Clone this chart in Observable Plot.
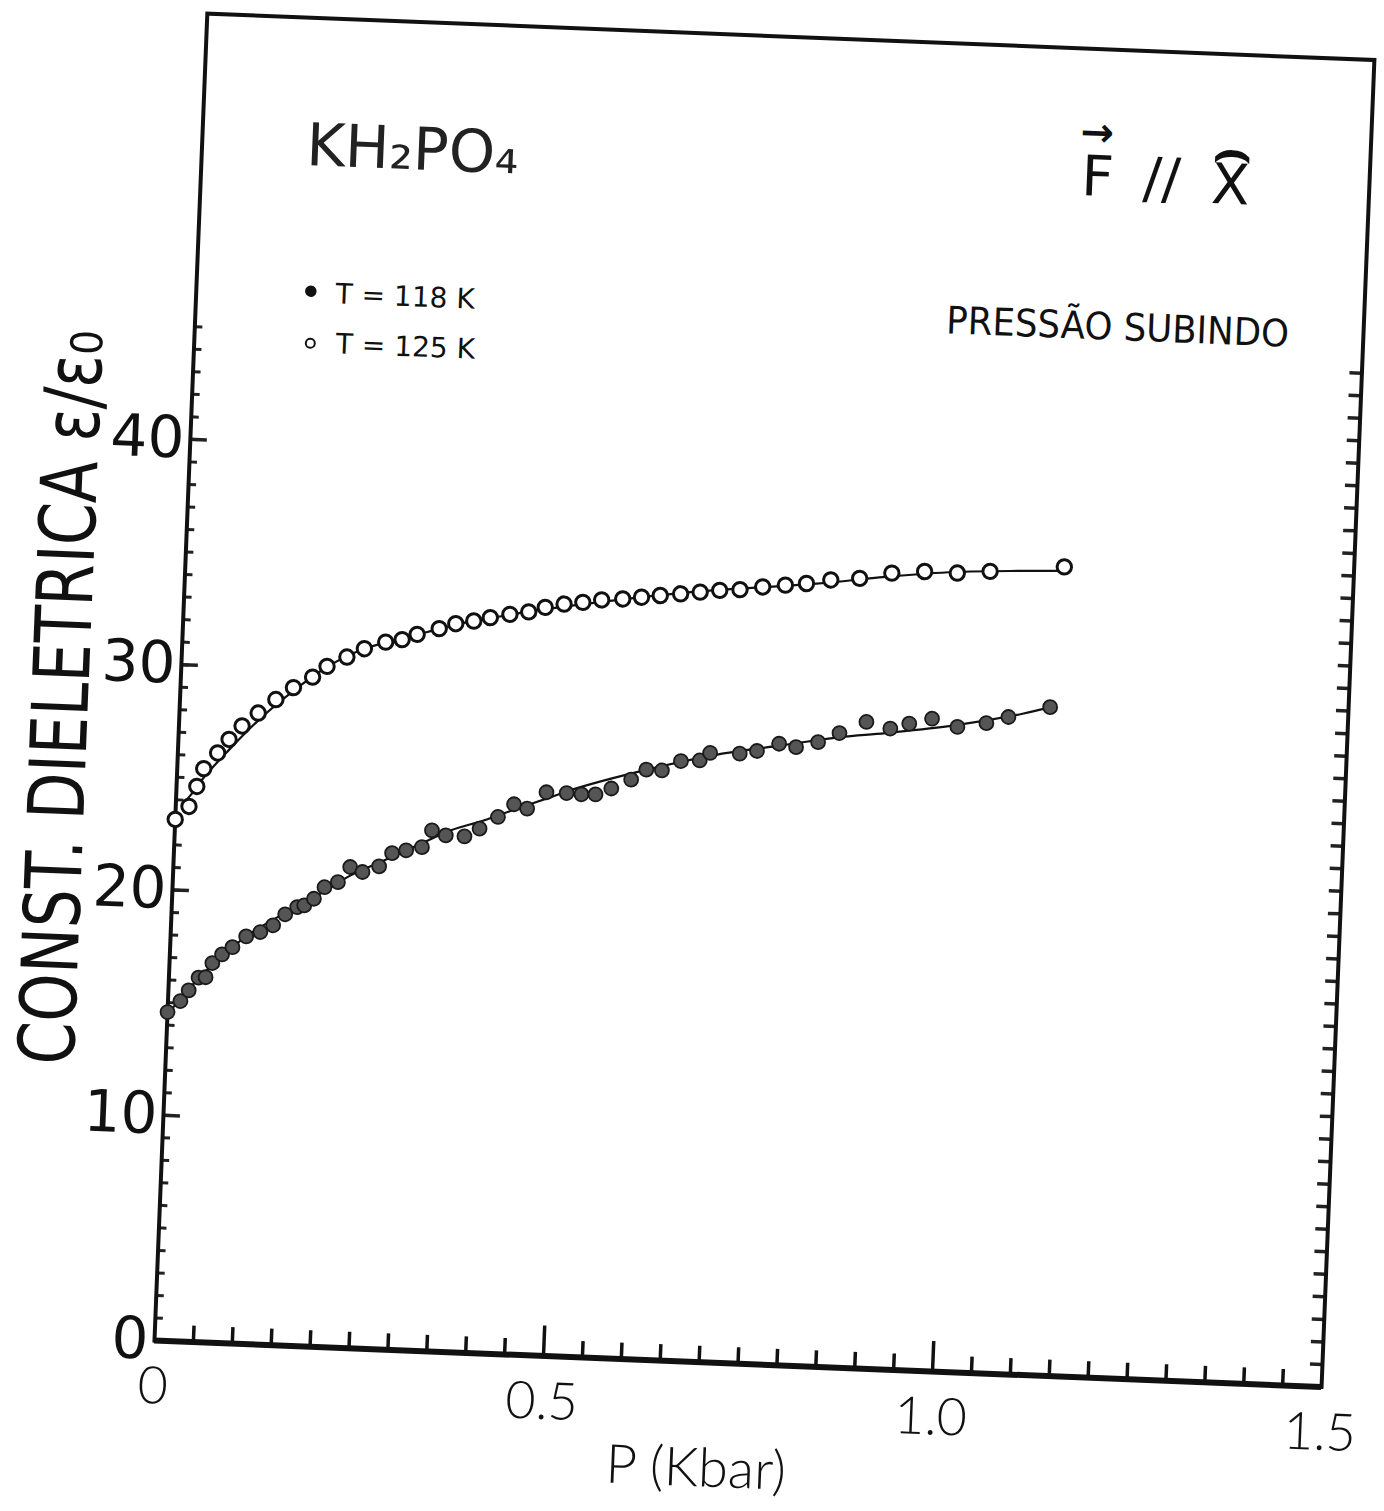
<!DOCTYPE html>
<html><head><meta charset="utf-8">
<script src="https://cdn.jsdelivr.net/npm/d3@7"></script>
<script src="https://cdn.jsdelivr.net/npm/@observablehq/plot@0.6"></script>
<style>
html,body{margin:0;padding:0;background:#fff;}
#chart{position:relative;width:1384px;height:1511px;overflow:hidden;background:#fff;}
#chart svg{display:block;transform:rotate(2.28deg);transform-origin:154px 1340px;}
</style></head><body><div id="chart"></div>
<script>
// T = 125 K (open circles): pressure (kbar) and dielectric constant
const p125 = [0.000,0.017,0.026,0.034,0.051,0.065,0.081,0.101,0.123,0.145,0.169,0.187,0.212,0.234,0.261,0.282,0.301,0.329,0.350,0.373,0.394,0.419,0.443,0.464,0.488,0.512,0.536,0.563,0.587,0.611,0.637,0.662,0.687,0.713,0.742,0.771,0.798,0.829,0.866,0.907,0.949,0.991,1.033,1.128];
const e125 = [23.13,23.73,24.63,25.43,26.15,26.77,27.39,27.99,28.62,29.18,29.68,30.18,30.63,31.03,31.36,31.50,31.76,32.05,32.30,32.45,32.63,32.81,32.95,33.18,33.36,33.47,33.61,33.69,33.80,33.91,34.02,34.13,34.24,34.31,34.47,34.59,34.70,34.90,35.02,35.31,35.44,35.43,35.56,35.89];
// T = 118 K (filled dots)
const p118 = [0.000,0.016,0.026,0.038,0.047,0.055,0.067,0.080,0.097,0.115,0.131,0.146,0.161,0.170,0.182,0.195,0.212,0.227,0.243,0.264,0.280,0.298,0.318,0.330,0.348,0.372,0.391,0.414,0.434,0.451,0.475,0.501,0.520,0.538,0.558,0.583,0.602,0.622,0.646,0.670,0.683,0.721,0.743,0.771,0.793,0.821,0.848,0.882,0.913,0.937,0.966,0.999,1.036,1.064,1.117];
const e118 = [14.58,15.09,15.58,16.16,16.19,16.83,17.23,17.57,18.07,18.29,18.61,19.12,19.46,19.55,19.86,20.39,20.64,21.33,21.13,21.41,22.02,22.17,22.34,23.10,22.90,22.89,23.26,23.81,24.40,24.23,24.99,24.99,24.96,24.98,25.27,25.70,26.17,26.16,26.61,26.67,27.02,27.04,27.19,27.55,27.43,27.69,28.13,28.67,28.42,28.67,28.93,28.61,28.83,29.14,29.65];
// hand-drawn fitted curves
const fit125P = [0.013,0.020,0.035,0.063,0.104,0.146,0.187,0.229,0.271,0.314,0.356,0.399,0.441,0.484,0.650,0.811,0.899,0.987,1.075,1.124];
const fit125E = [23.99,24.30,25.06,26.21,27.75,29.06,30.15,30.95,31.45,31.88,32.31,32.64,32.95,33.22,34.11,34.71,35.13,35.47,35.64,35.71];
const fit118P = [0.004,0.028,0.061,0.102,0.144,0.186,0.228,0.270,0.312,0.354,0.396,0.438,0.481,0.512,0.599,0.687,0.774,0.849,0.907,0.995,1.082,1.117];
const fit118E = [14.66,15.72,16.96,18.20,19.14,20.01,20.96,21.68,22.41,23.13,23.63,24.21,24.78,25.20,26.13,26.92,27.48,27.95,28.21,28.67,29.31,29.65];
// axes
const yTickLabels = [0,10,20,30,40];
const xTickLabels = [0,0.5,1.0,1.5];
const yMinorTicks = d3.range(0,46,1);
const xMinorTicks = d3.range(1,30,1).map(i => i*0.05);
const xMajorTicks = [0.5,1.0];
const legendLabels = ["T = 118 K","T = 125 K"];
const yTitle = "CONST. DIELETRICA ε/ε₀";
const xTitle = "P (Kbar)";

const W=1384,H=1511,mL=154,mR=62,mT=12,mB=171;
const fw = W-mL-mR, fh = H-mT-mB;

const d125 = p125.map((p,i)=>({p, e:e125[i]}));
const d118 = p118.map((p,i)=>({p, e:e118[i]}));
const f125 = fit125P.map((p,i)=>({p, e:fit125E[i]}));
const f118 = fit118P.map((p,i)=>({p, e:fit118E[i]}));

const sans = "DejaVu Sans, Liberation Sans, sans-serif";
const light = "Lato, Roboto, DejaVu Sans, sans-serif";

const plot = Plot.plot({
  width: W, height: H,
  marginLeft: mL, marginRight: mR, marginTop: mT, marginBottom: mB,
  style: {background: "white", color: "#111", overflow: "visible"},
  x: {domain: [0, 1.5]},
  y: {domain: [0, 58.9]},
  marks: [
    // inward ticks
    Plot.tickY(yMinorTicks, {y: d=>d, insetRight: fw-8, strokeWidth: 3, stroke: "#222"}),
    Plot.tickY(yTickLabels.filter(d=>d>0), {y: d=>d, insetRight: fw-17, strokeWidth: 3.5, stroke: "#222"}),
    Plot.tickY(yMinorTicks.filter(d=>d>0), {y: d=>d, insetLeft: fw-12, strokeWidth: 3.5, stroke: "#222"}),
    Plot.tickX(xMinorTicks.filter(d=>!xMajorTicks.includes(+d.toFixed(2))), {x: d=>d, insetTop: fh-16, strokeWidth: 3.5, stroke: "#111"}),
    Plot.tickX(xMajorTicks, {x: d=>d, insetTop: fh-30, strokeWidth: 3.5, stroke: "#111"}),
    Plot.frame({stroke: "#111", strokeWidth: 4}),
    Plot.ruleY([0], {stroke: "#111", strokeWidth: 6}),
    Plot.axisY({ticks: yTickLabels, tickSize: 0, tickPadding: 6, fontSize: 58, fontFamily: sans, label: null}),
    Plot.axisX({ticks: xTickLabels, tickSize: 0, tickPadding: 26, fontSize: 52, fontWeight: 300, fontFamily: light, label: null,
      tickFormat: d => d === 0 ? "0" : d.toFixed(1)}),
    // fitted curves
    Plot.line(f125, {x: "p", y: "e", stroke: "#111", strokeWidth: 2.2, curve: "catmull-rom"}),
    Plot.line(f118, {x: "p", y: "e", stroke: "#111", strokeWidth: 2.2, curve: "catmull-rom"}),
    // data
    Plot.dot(d118, {x: "p", y: "e", r: 7, fill: "#555", stroke: "#1a1a1a", strokeWidth: 1.8}),
    Plot.dot(d125, {x: "p", y: "e", r: 7.2, fill: "white", stroke: "#111", strokeWidth: 3}),
    // legend
    Plot.dot([{x:0.147,y:46.78}], {x:"x", y:"y", r:5, fill:"#111", stroke:"#111"}),
    Plot.dot([{x:0.149,y:44.47}], {x:"x", y:"y", r:4.5, fill:"white", stroke:"#111", strokeWidth:2}),
    Plot.text([{x:0.179,y:46.29,t:legendLabels[0]},{x:0.182,y:44.07,t:legendLabels[1]}], {x:"x", y:"y", text:"t", textAnchor:"start", lineAnchor:"bottom", fontSize:28, fontFamily:sans, fill:"#111"}),
    // annotations
    Plot.text([{x:0.134,y:52.36,t:"KH₂PO₄"}], {x:"x", y:"y", text:"t", textAnchor:"start", lineAnchor:"bottom", fontSize:59, fontFamily:sans, fill:"#222"}),
    Plot.text([{x:1.130,y:52.40,t:"F"},{x:1.209,y:52.42,t:"//"},{x:1.297,y:52.27,t:"X"}], {x:"x", y:"y", text:"t", textAnchor:"start", lineAnchor:"bottom", fontSize:56, fontFamily:sans, fill:"#111"}),
    Plot.text([{x:1.148,y:55.17,t:"→"}], {x:"x", y:"y", text:"t", fontSize:40, fontFamily:sans, fill:"#111", fontWeight:"bold"}),
    Plot.text([{x:1.322,y:54.6,t:"⌢"}], {x:"x", y:"y", text:"t", fontSize:60, fontFamily:sans, fill:"#111", fontWeight:"bold"}),
    Plot.text([{x:0.964,y:46.04,t:"PRESSÃO SUBINDO"}], {x:"x", y:"y", text:"t", textAnchor:"start", lineAnchor:"bottom", fontSize:38, fontFamily:sans, fill:"#111"}),
    // axis titles
    Plot.text([{x:-0.118,y:12.05,t:yTitle}], {x:"x", y:"y", text:"t", rotate:-90, textAnchor:"start", lineAnchor:"bottom", fontSize:78, fontFamily:sans, fill:"#111"}),
    Plot.text([xTitle], {frameAnchor:"bottom", text:d=>d, dx:-38, dy:124, fontSize:54, fontWeight:300, fontFamily:light, fill:"#111"})
  ]
});
document.getElementById("chart").appendChild(plot);
// hand lettering of the titles is condensed: force their lengths
plot.querySelectorAll("text").forEach(t => {
  if (t.textContent === yTitle) { t.setAttribute("textLength", 735); t.setAttribute("lengthAdjust", "spacingAndGlyphs"); }
  if (t.textContent === "PRESSÃO SUBINDO") { t.setAttribute("textLength", 343); t.setAttribute("lengthAdjust", "spacingAndGlyphs"); }
});
</script>
</body></html>
